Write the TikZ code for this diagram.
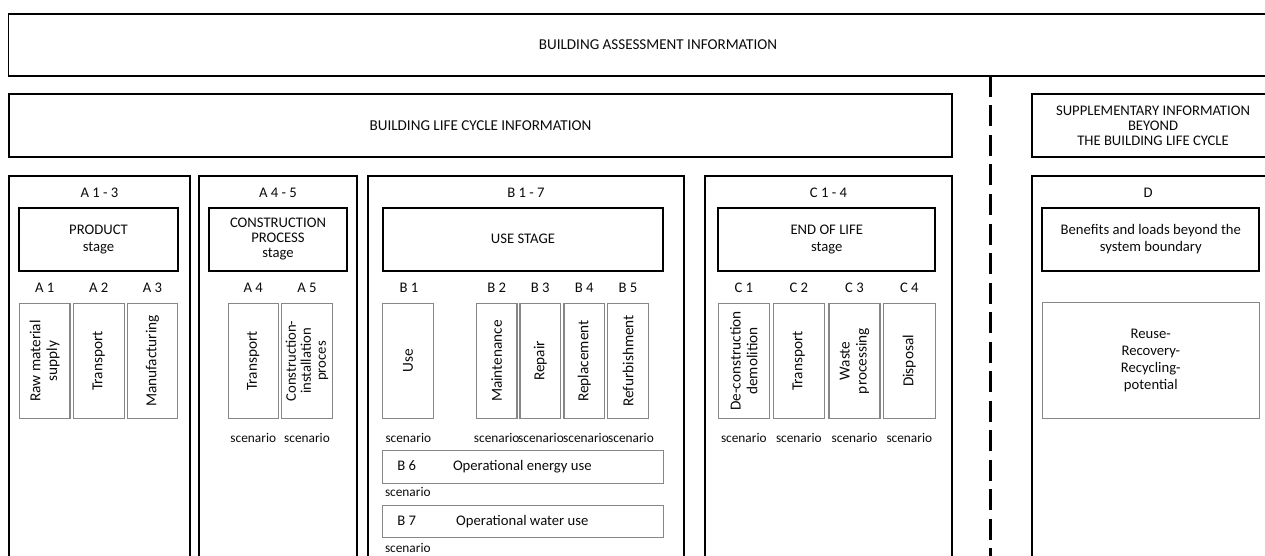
\documentclass[tikz,border=0pt]{standalone}
\usepackage{fontspec}
\setmainfont{Carlito}
\definecolor{subgray}{RGB}{135,135,135}
\definecolor{txt}{RGB}{10,10,10}
\newcommand\fsA{\fontsize{14.67}{17}\selectfont}
\newcommand\fsH{\fontsize{15.1}{17}\selectfont}
\newcommand\fsV{\fontsize{15.3}{16.8}\selectfont}
\newcommand\fsT{\fontsize{14.67}{15}\selectfont}
\newcommand\fsB{\fontsize{13.33}{16}\selectfont}
\begin{document}
\begin{tikzpicture}[x=1pt,y=-1pt,
  every node/.style={inner sep=0pt, outer sep=0pt, text=txt},
  bigbox/.style={draw=black, line width=1.3pt, align=center, font=\fsH},
  modbox/.style={draw=black, line width=1.1pt},
  stagebox/.style={draw=black, line width=1.8pt, align=center, font=\fsA},
  subbox/.style={draw=subgray, line width=1.3pt, align=center, font=\fsA},
  vbox/.style={subbox, rotate=90, font=\fsV},
  lab/.style={font=\fsA},
  scen/.style={font=\fsB},
  dashline/.style={draw=black, line width=2.4pt, dash pattern=on 21pt off 8.5pt}
]
\useasboundingbox (0,0) rectangle (1265,556);
\clip (0,0) rectangle (1265,556);

% top level boxes
\node[bigbox, minimum width=1299pt, minimum height=62pt] (assess) at (658,45) {BUILDING ASSESSMENT INFORMATION};
\node[bigbox, minimum width=943pt, minimum height=63pt] (lifecycle) at (480.5,125.5) {BUILDING LIFE CYCLE INFORMATION};
\node[bigbox, font=\fsT, minimum width=242pt, minimum height=63pt] (suppl) at (1153,125.5) {SUPPLEMENTARY INFORMATION\\BEYOND\\THE BUILDING LIFE CYCLE};

% dashed separator
\coordinate (dashtop) at (990.5,76);
\coordinate (dashbot) at (990.5,575);
\draw[dashline] (dashtop) -- (dashbot);

% module boxes
\node[modbox, minimum width=181pt, minimum height=400pt] (modA13) at (99.5,376) {};
\node[modbox, minimum width=158pt, minimum height=400pt] (modA45) at (278,376) {};
\node[modbox, minimum width=316pt, minimum height=400pt] (modB17) at (526,376) {};
\node[modbox, minimum width=247pt, minimum height=400pt] (modC14) at (828.5,376) {};
\node[modbox, minimum width=242pt, minimum height=400pt] (modD) at (1153,376) {};

% module labels
\node[lab] (labA13) at (99.5,192.7) {A 1 - 3};
\node[lab] (labA45) at (278,192.7) {A 4 - 5};
\node[lab] (labB17) at (526,192.7) {B 1 - 7};
\node[lab] (labC14) at (828.5,192.7) {C 1 - 4};
\node[lab] (labD) at (1148,192.7) {D};

% stage boxes
\node[stagebox, minimum width=158.4pt, minimum height=63pt] (product) at (98.5,239.2) {PRODUCT\\stage};
\node[stagebox, font=\fsT, minimum width=137.4pt, minimum height=63pt] (constr) at (278,239.2) {CONSTRUCTION\\PROCESS\\stage};
\node[stagebox, minimum width=280.6pt, minimum height=63pt] (usestage) at (523,239.2) {USE STAGE};
\node[stagebox, minimum width=217pt, minimum height=63pt] (eol) at (826.8,239.2) {END OF LIFE\\stage};
\node[stagebox, minimum width=217pt, minimum height=63pt] (benefits) at (1150.8,239.2) {Benefits and loads beyond the\\system boundary};

% sub-module labels
\node[lab] (lA1) at (44.7,288) {A 1};
\node[lab] (lA2) at (98.8,288) {A 2};
\node[lab] (lA3) at (152.5,288) {A 3};
\node[lab] (lA4) at (253.3,288) {A 4};
\node[lab] (lA5) at (307,288) {A 5};
\node[lab] (lB1) at (409,288) {B 1};
\node[lab] (lB2) at (496.7,288) {B 2};
\node[lab] (lB3) at (540.3,288) {B 3};
\node[lab] (lB4) at (584.3,288) {B 4};
\node[lab] (lB5) at (628,288) {B 5};
\node[lab] (lC1) at (743.8,288) {C 1};
\node[lab] (lC2) at (798.8,288) {C 2};
\node[lab] (lC3) at (854.5,288) {C 3};
\node[lab] (lC4) at (909.3,288) {C 4};

% sub-module boxes (vertical text)
\node[vbox, minimum width=115.4pt, minimum height=50.7pt] (bA1) at (44.7,361) {Raw material\\supply};
\node[vbox, minimum width=115.4pt, minimum height=51pt] (bA2) at (98.8,361) {Transport};
\node[vbox, minimum width=115.4pt, minimum height=50.4pt] (bA3) at (152.5,361) {Manufacturing};
\node[vbox, minimum width=115.4pt, minimum height=50pt] (bA4) at (253.3,361) {Transport};
\node[vbox, font=\fsT, minimum width=115.4pt, minimum height=50.6pt] (bA5) at (307,361) {Construction-\\installation\\proces};
\node[vbox, minimum width=115.4pt, minimum height=50.6pt] (bB1) at (408,361) {Use};
\node[vbox, minimum width=115.4pt, minimum height=40.7pt] (bB2) at (496.7,361) {Maintenance};
\node[vbox, minimum width=115.4pt, minimum height=40.7pt] (bB3) at (540.3,361) {Repair};
\node[vbox, minimum width=115.4pt, minimum height=40.7pt] (bB4) at (584.3,361) {Replacement};
\node[vbox, minimum width=115.4pt, minimum height=40.6pt] (bB5) at (628,361) {Refurbishment};
\node[vbox, minimum width=115.4pt, minimum height=51pt] (bC1) at (743.8,361) {De-construction\\demolition};
\node[vbox, minimum width=115.4pt, minimum height=51pt] (bC2) at (798.8,361) {Transport};
\node[vbox, minimum width=115.4pt, minimum height=51pt] (bC3) at (854.5,361) {Waste\\processing};
\node[vbox, minimum width=115.4pt, minimum height=52pt] (bC4) at (909.3,361) {Disposal};
\node[subbox, minimum width=217pt, minimum height=115.6pt] (reuse) at (1150.8,360.5) {Reuse-\\Recovery-\\Recycling-\\potential};

% scenario labels
\node[scen] (sA4) at (253.3,437.5) {scenario};
\node[scen] (sA5) at (307,437.5) {scenario};
\node[scen] (sB1) at (408.3,438) {scenario};
\node[scen] (sB2) at (496.7,438) {scenario};
\node[scen] (sB3) at (541,438) {scenario};
\node[scen] (sB4) at (586,438) {scenario};
\node[scen] (sB5) at (631,438) {scenario};
\node[scen] (sC1) at (743.8,437.5) {scenario};
\node[scen] (sC2) at (798.8,437.5) {scenario};
\node[scen] (sC3) at (854.5,437.5) {scenario};
\node[scen] (sC4) at (909.3,437.5) {scenario};

% B6 and B7
\node[subbox, minimum width=280.6pt, minimum height=32.6pt] (bB6) at (523,467) {};
\node[lab] (lB6) at (406.7,466) {B 6};
\node[lab] (tB6) at (522.3,467) {Operational energy use};
\node[scen, anchor=west] (sB6) at (385,492.3) {scenario};
\node[subbox, minimum width=280.6pt, minimum height=32pt] (bB7) at (523,521.7) {};
\node[lab] (lB7) at (406.7,521) {B 7};
\node[lab] (tB7) at (522.3,521.7) {Operational water use};
\node[scen, anchor=west] (sB7) at (385,548.3) {scenario};
\end{tikzpicture}
\end{document}
